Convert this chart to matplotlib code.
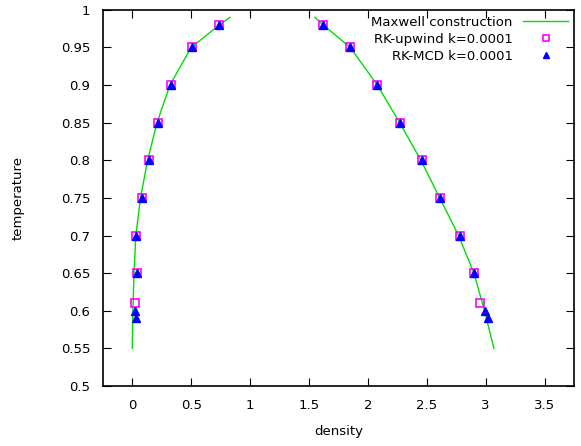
import numpy as np
import matplotlib.pyplot as plt

# Maxwell construction (coexistence curve), two branches
maxwell_left_rho = [0.0, 0.005, 0.015, 0.03, 0.07, 0.13, 0.21, 0.32, 0.5, 0.74, 0.83]
maxwell_left_T = [0.55, 0.6, 0.65, 0.7, 0.75, 0.8, 0.85, 0.9, 0.95, 0.98, 0.99]
maxwell_right_rho = [1.55, 1.62, 1.85, 2.08, 2.27, 2.45, 2.61, 2.77, 2.9, 2.99, 3.07]
maxwell_right_T = [0.99, 0.98, 0.95, 0.9, 0.85, 0.8, 0.75, 0.7, 0.65, 0.6, 0.55]

# RK-upwind k=0.0001
upwind_T = [0.98, 0.95, 0.9, 0.85, 0.8, 0.75, 0.7, 0.65, 0.61]
upwind_left = [0.74, 0.51, 0.325, 0.215, 0.14, 0.08, 0.035, 0.037, 0.025]
upwind_right = [1.62, 1.85, 2.08, 2.27, 2.46, 2.61, 2.78, 2.9, 2.95]

# RK-MCD k=0.0001
mcd_T = [0.98, 0.95, 0.9, 0.85, 0.8, 0.75, 0.7, 0.65, 0.6, 0.59]
mcd_left = [0.74, 0.51, 0.325, 0.215, 0.14, 0.08, 0.035, 0.037, 0.02, 0.03]
mcd_right = [1.62, 1.85, 2.08, 2.27, 2.46, 2.61, 2.78, 2.9, 2.99, 3.02]

xticks = [0, 0.5, 1, 1.5, 2, 2.5, 3, 3.5]
yticks = [0.5, 0.55, 0.6, 0.65, 0.7, 0.75, 0.8, 0.85, 0.9, 0.95, 1]

plt.rcParams['font.family'] = ['DejaVu Sans']
fig = plt.figure(figsize=(5.81, 4.46), dpi=100)
ax = fig.add_axes([0.177, 0.1345, 0.811, 0.8435])

ax.plot(maxwell_left_rho, maxwell_left_T, color='#00dd00', lw=1, label='Maxwell construction')
ax.plot(maxwell_right_rho, maxwell_right_T, color='#00dd00', lw=1)

ax.plot(upwind_left + upwind_right, upwind_T + upwind_T, ls='none', marker='s', ms=6,
        mfc='none', mec='#ff00ff', mew=1.2, label='RK-upwind k=0.0001')
ax.plot(mcd_left + mcd_right, mcd_T + mcd_T, ls='none', marker='^', ms=6,
        color='#0000ff', label='RK-MCD k=0.0001')

ax.set_xlim(-0.25, 3.75)
ax.set_ylim(0.5, 1.0)
ax.set_xticks(xticks)
ax.set_xticklabels([str(v) for v in xticks])
ax.set_yticks(yticks)
ax.set_yticklabels([str(v) for v in yticks])
ax.tick_params(direction='in', top=True, right=True, length=6, labelsize=9.5, pad=9)
for s in ax.spines.values():
    s.set_linewidth(1.2)

ax.set_xlabel('density', fontsize=9.5, labelpad=10)
ax.set_ylabel('temperature', fontsize=9.5, labelpad=26)

leg = ax.legend(loc='upper right', frameon=False, markerfirst=False, fontsize=9.5,
                handlelength=3.4, labelspacing=0.3, borderaxespad=0.15, handletextpad=0.8,
                markerscale=0.75, borderpad=0.3)

# gnuplot-style key: labels right-aligned next to the samples
fig.canvas.draw()
renderer = fig.canvas.get_renderer()
texts = leg.get_texts()
boxes = [t.get_window_extent(renderer) for t in texts]
right = max(b.x1 for b in boxes)
for t, b in zip(texts, boxes):
    ax.annotate(t.get_text(), xy=(right, (b.y0 + b.y1) / 2), xycoords='figure pixels',
                ha='right', va='center', fontsize=9.5)
    t.set_alpha(0)

fig.savefig('out.png', dpi=100)
